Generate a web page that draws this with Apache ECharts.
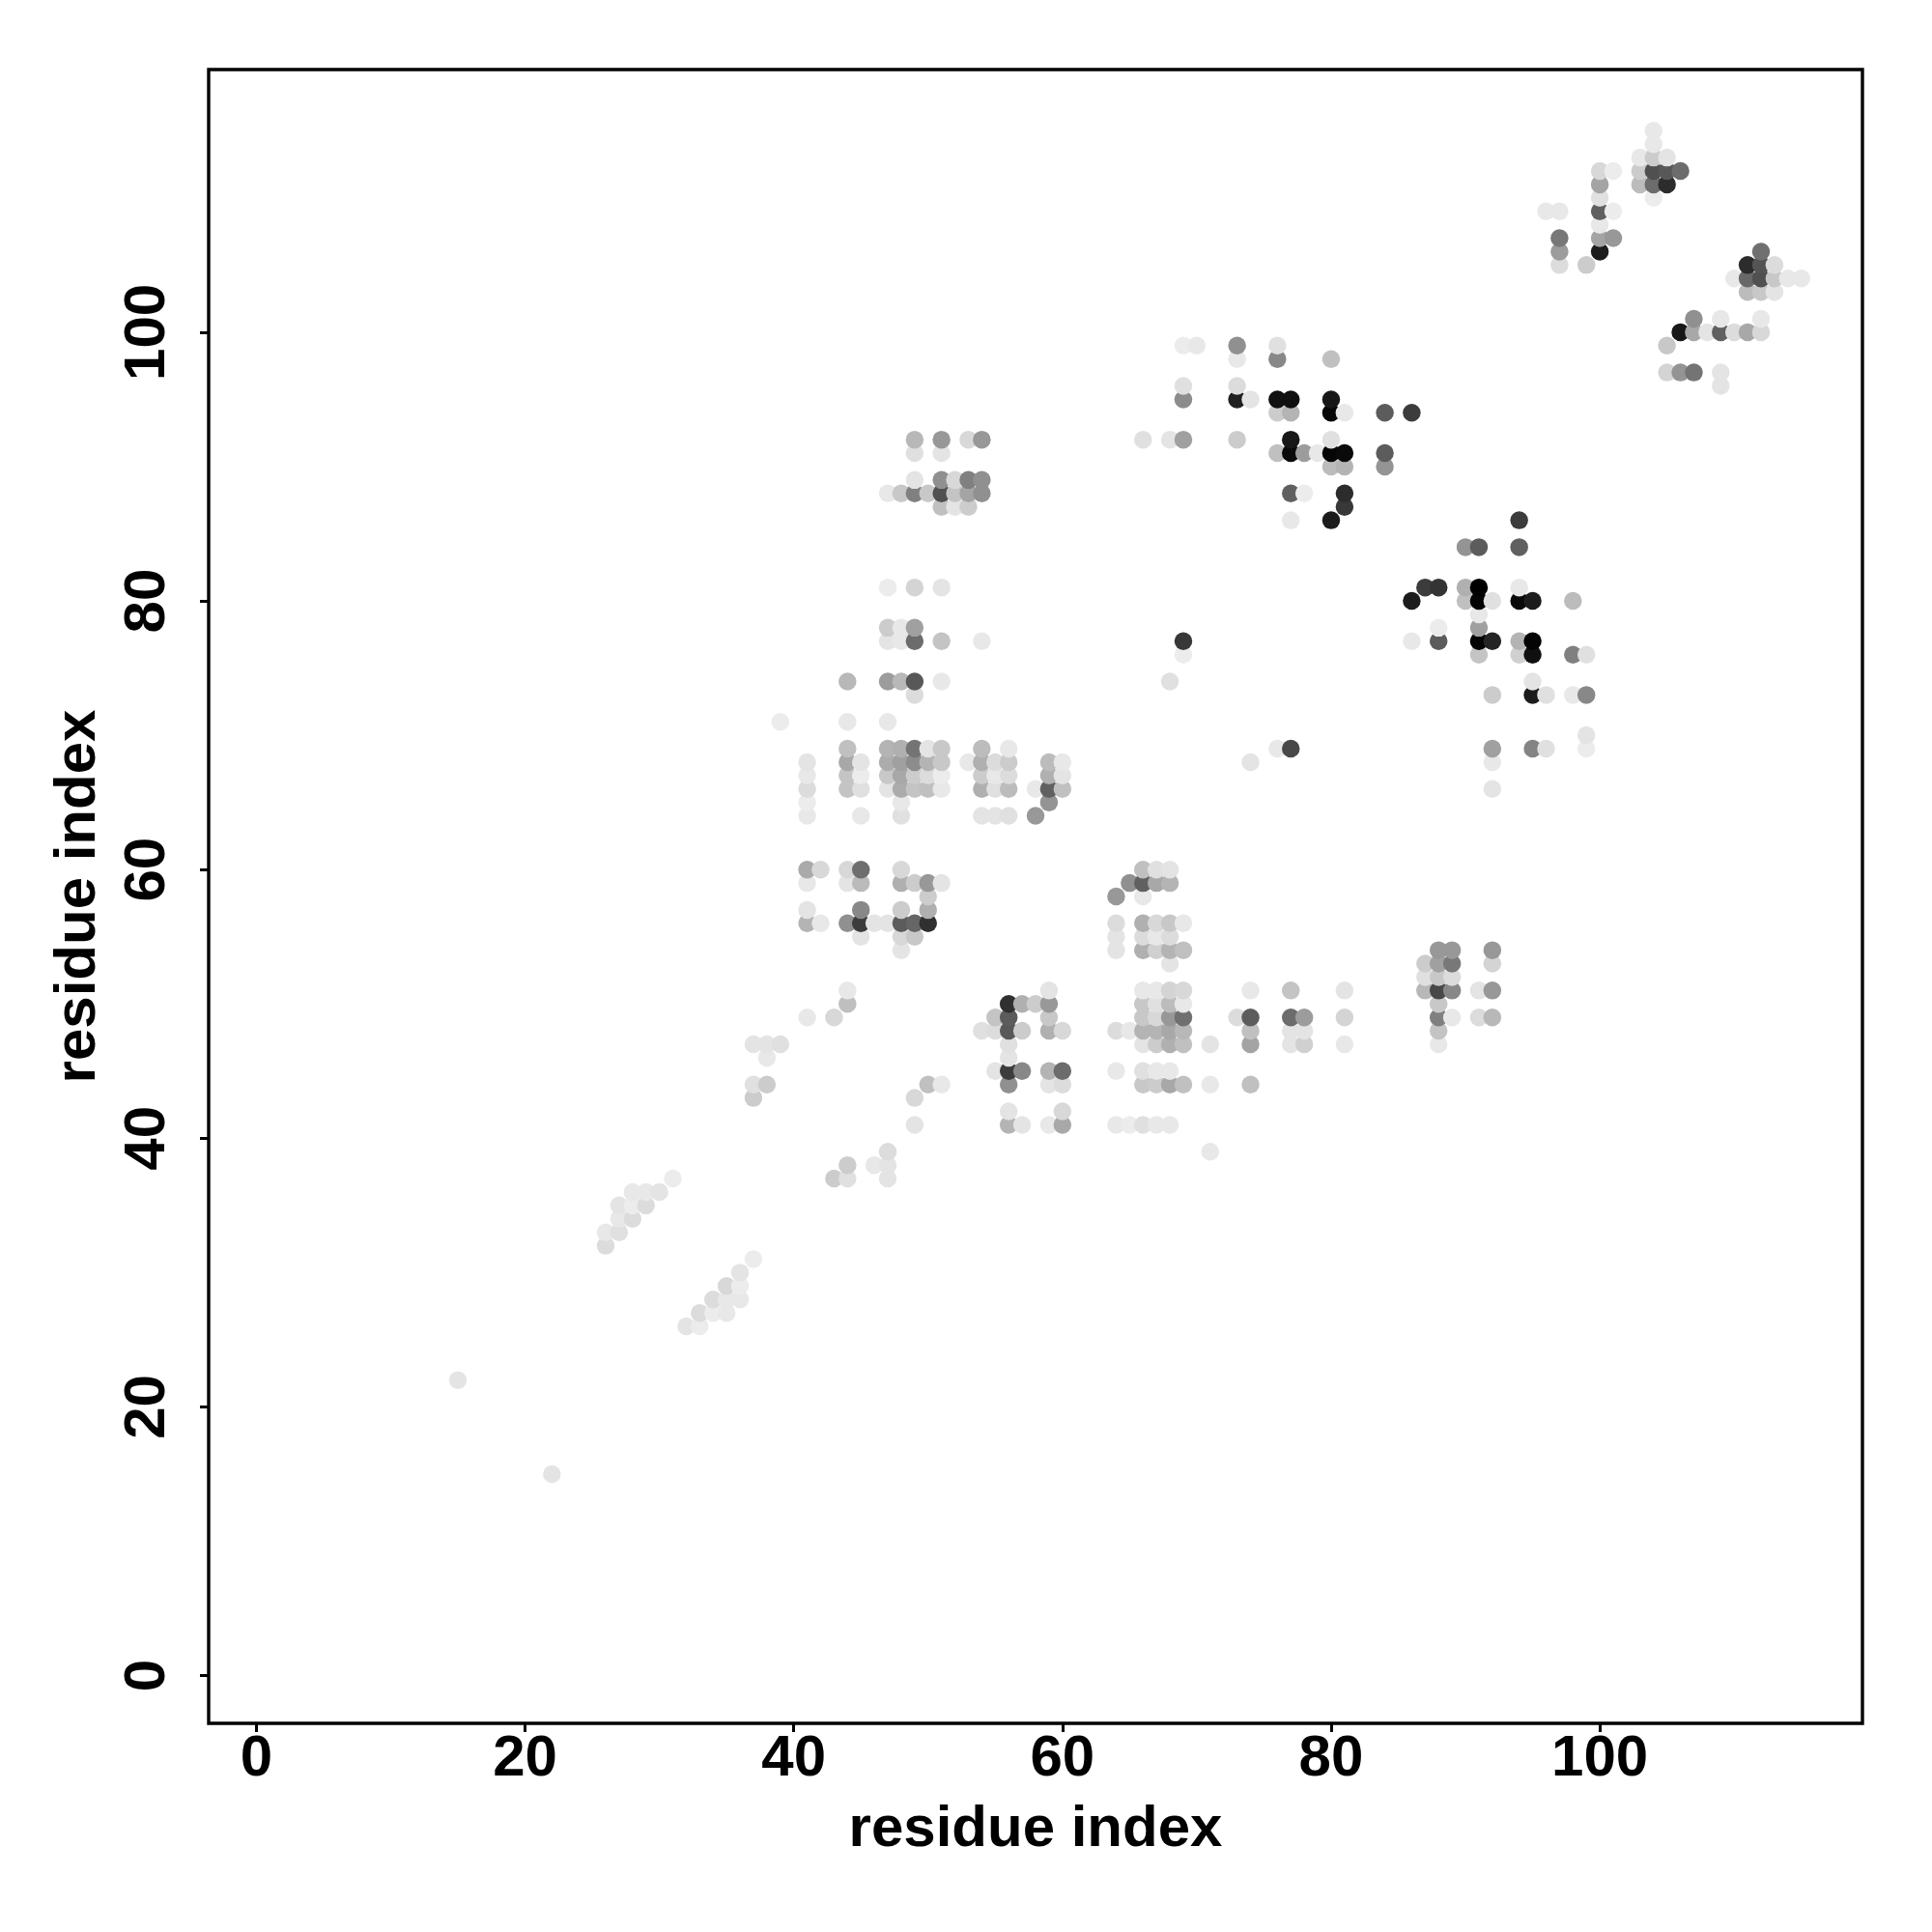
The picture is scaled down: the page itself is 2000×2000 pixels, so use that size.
<!DOCTYPE html>
<html><head><meta charset="utf-8">
<style>html,body{margin:0;padding:0;background:#fff}#c{width:2000px;height:2000px}</style>
<script src="https://cdn.jsdelivr.net/npm/echarts@6/dist/echarts.min.js"></script>
</head><body><div id="c"></div>
<script>
// Every entry: [residue x, residue y, grey level 0-255]
const tickValues = [0, 20, 40, 60, 80, 100];
const axisTitle = 'residue index';
const sparse = [[15,22,0xe4],[22,15,0xe4]];
const strandA = [[26,32,0xdc],[26,33,0xe8],[27,33,0xe0],[27,34,0xe8],[28,34,0xdc],[27,35,0xe4],[28,35,0xec],[29,35,0xdc],[28,36,0xe8],[29,36,0xe8],[30,36,0xe4],[31,37,0xec]];
const strandB = [[32,26,0xe4],[33,26,0xec],[33,27,0xdc],[34,27,0xec],[35,27,0xe8],[34,28,0xdc],[35,28,0xe8],[36,28,0xe8],[35,29,0xd8],[36,29,0xec],[36,30,0xe4],[37,31,0xec]];
const band37to51 = [[37,47,0xe4],[38,47,0xe4],[39,47,0xe0],[38,46,0xe8],[37,44,0xe0],[38,44,0xcc],[37,43,0xcc],[41,49,0xe8],[43,49,0xd8],[44,50,0xbf],[44,51,0xe8],[50,44,0xc0],[51,44,0xe8],[49,43,0xd8],[49,41,0xe4],[44,38,0xcc],[43,37,0xcc],[44,37,0xe0],[46,38,0xe8],[47,39,0xdc],[47,38,0xe4],[47,37,0xe4]];
const band54to60 = [[41,60,0xaa],[42,60,0xd8],[44,60,0xd8],[45,60,0x6e],[48,60,0xd8],[41,59,0xe8],[44,59,0xe4],[45,59,0xbb],[48,59,0xb0],[49,59,0xcc],[50,59,0x98],[51,59,0xe4],[50,58,0xcc],[41,57,0xe4],[45,57,0x88],[48,57,0xcc],[50,57,0xb0],[41,56,0xb4],[42,56,0xe8],[44,56,0x90],[45,56,0x3c],[46,56,0xe4],[47,56,0xe4],[48,56,0x5c],[49,56,0x66],[50,56,0x30],[45,55,0xe4],[48,55,0xd8],[49,55,0xc8],[48,54,0xe4]];
const hairpin54to60 = [[59,51,0xe4],[56,50,0x30],[57,50,0xb0],[58,50,0xcc],[59,50,0x98],[55,49,0xc4],[56,49,0x5c],[59,49,0xc8],[54,48,0xe0],[55,48,0xdc],[56,48,0x58],[57,48,0xcc],[59,48,0xb0],[60,48,0xd8],[56,47,0xe0],[56,46,0xe4],[55,45,0xe4],[56,45,0x3c],[57,45,0x88],[59,45,0xb4],[60,45,0x6c],[56,44,0x90],[59,44,0xe4],[60,44,0xdc],[56,42,0xe4],[60,42,0xd8],[56,41,0xb4],[57,41,0xe4],[59,41,0xe8],[60,41,0xa8]];
const block64to69upper = [[66,60,0xc0],[67,60,0xe0],[68,60,0xe4],[65,59,0x90],[66,59,0x60],[67,59,0xa8],[68,59,0xb4],[64,58,0x98],[66,58,0xe8],[64,56,0xdc],[66,56,0xb0],[67,56,0xd8],[68,56,0xc8],[69,56,0xe8],[64,55,0xe4],[66,55,0xdc],[67,55,0xe8],[68,55,0xdc],[64,54,0xe4],[66,54,0xb0],[67,54,0xd0],[68,54,0xb4],[69,54,0xc0],[68,53,0xe4]];
const block64to81lower = [[66,51,0xe8],[67,51,0xe8],[68,51,0xd4],[69,51,0xd8],[74,51,0xe8],[77,51,0xc4],[81,51,0xe4],[66,50,0xc8],[67,50,0xe0],[68,50,0xbc],[69,50,0xe8],[66,49,0xc8],[67,49,0xd8],[68,49,0x98],[69,49,0x70],[73,49,0xdc],[74,49,0x5c],[77,49,0x6c],[78,49,0x9c],[81,49,0xd4],[64,48,0xdc],[65,48,0xe8],[66,48,0xb4],[67,48,0xb4],[68,48,0xa8],[69,48,0xb8],[74,48,0xc0],[77,48,0xe4],[78,48,0xe4],[66,47,0xe4],[67,47,0xcc],[68,47,0xb0],[69,47,0xc0],[71,47,0xe4],[74,47,0xa4],[77,47,0xe4],[78,47,0xd0],[81,47,0xe8],[64,45,0xe8],[66,45,0xe0],[67,45,0xe8],[68,45,0xe8],[66,44,0xc8],[67,44,0xcc],[68,44,0xa8],[69,44,0xc0],[71,44,0xe8],[74,44,0xc0],[64,41,0xe8],[65,41,0xec],[66,41,0xe0],[67,41,0xe8],[68,41,0xe8],[71,39,0xe8]];
const block87to92 = [[88,54,0x98],[89,54,0x98],[92,54,0x98],[87,53,0xcc],[88,53,0xa0],[89,53,0x78],[92,53,0xd4],[87,52,0xe0],[88,52,0xc8],[89,52,0xdc],[87,51,0xb8],[88,51,0x48],[89,51,0x88],[91,51,0xe4],[92,51,0x98],[88,50,0xc8],[88,49,0x80],[89,49,0xe8],[91,49,0xdc],[92,49,0xb8],[88,48,0xc4],[88,47,0xe8]];
const band64to69 = [[44,69,0xc0],[47,69,0xb4],[48,69,0xb0],[49,69,0x74],[50,69,0xe4],[51,69,0xc8],[54,69,0xbc],[56,69,0xe8],[41,68,0xe4],[44,68,0xa8],[45,68,0xe4],[47,68,0xac],[48,68,0xa0],[49,68,0x8c],[50,68,0xb4],[51,68,0xc8],[53,68,0xe8],[54,68,0xb0],[55,68,0xdc],[56,68,0xcc],[59,68,0xbc],[60,68,0xe8],[41,67,0xe8],[44,67,0xc4],[45,67,0xec],[47,67,0xc8],[48,67,0xa8],[49,67,0xcc],[50,67,0xdc],[51,67,0xec],[54,67,0xcc],[55,67,0xe8],[56,67,0xdc],[59,67,0xb0],[60,67,0xe4],[41,66,0xdc],[44,66,0xc4],[45,66,0xe0],[47,66,0xe4],[48,66,0xac],[49,66,0xc4],[50,66,0xc0],[51,66,0xe8],[54,66,0xb0],[55,66,0xe0],[56,66,0xbc],[58,66,0xe8],[59,66,0x60],[60,66,0xc0],[41,65,0xec],[48,65,0xe8],[59,65,0x94],[41,64,0xe8],[45,64,0xe8],[48,64,0xe0],[54,64,0xe4],[55,64,0xe4],[56,64,0xe0],[58,64,0x98]];
const band71to81 = [[47,81,0xec],[49,81,0xd4],[51,81,0xe4],[47,78,0xcc],[48,78,0xe8],[49,78,0xa0],[47,77,0xe4],[48,77,0xe8],[49,77,0x6c],[51,77,0xc4],[54,77,0xe8],[44,74,0xb8],[47,74,0x9c],[48,74,0xb8],[49,74,0x58],[51,74,0xe8],[49,73,0xdc],[39,71,0xec],[44,71,0xe8],[47,71,0xe8]];
const band87to92 = [[49,92,0xb8],[51,92,0x98],[53,92,0xd8],[54,92,0x98],[49,91,0xe0],[51,91,0xe4],[49,89,0xe4],[51,89,0x90],[52,89,0xd8],[53,89,0x80],[54,89,0x90],[47,88,0xe8],[48,88,0xc8],[49,88,0x80],[50,88,0xc8],[51,88,0x50],[52,88,0xc4],[53,88,0xa4],[54,88,0x90],[51,87,0xc0],[52,87,0xe4],[53,87,0xcc]];
const helix66to86 = [[69,99,0xec],[70,99,0xe8],[73,99,0x90],[76,99,0xe0],[73,98,0xe8],[76,98,0x88],[80,98,0xc0],[69,96,0xe0],[73,96,0xdc],[69,95,0x8c],[73,95,0x20],[74,95,0xe4],[76,95,0x10],[77,95,0x10],[80,95,0x18],[76,94,0xcc],[77,94,0xb4],[80,94,0x08],[81,94,0xe8],[84,94,0x5c],[86,94,0x3c],[66,92,0xe0],[68,92,0xe4],[69,92,0xa0],[73,92,0xcc],[77,92,0x18],[80,92,0xe0],[76,91,0xc0],[77,91,0x0a],[78,91,0x9c],[79,91,0xe8],[80,91,0x06],[81,91,0x0a],[84,91,0x5c],[80,90,0xbc],[81,90,0xb4],[84,90,0x94],[77,88,0x60],[78,88,0xec],[81,88,0x2c],[81,87,0x38],[77,86,0xe8],[80,86,0x1c]];
const isolated68to77 = [[69,77,0x38],[69,76,0xec],[68,74,0xe0],[74,68,0xe4],[76,69,0xe8],[77,69,0x48]];
const helix86to99 = [[94,86,0x3c],[90,84,0x94],[91,84,0x5c],[94,84,0x60],[87,81,0x3c],[88,81,0x34],[90,81,0xb0],[91,81,0x00],[94,81,0xe8],[86,80,0x1c],[90,80,0xc0],[91,80,0x04],[92,80,0xe0],[94,80,0x0a],[95,80,0x1c],[98,80,0xbc],[91,79,0xe8],[88,78,0xec],[91,78,0xa0],[86,77,0xe8],[88,77,0x5c],[91,77,0x04],[92,77,0x24],[94,77,0xb4],[95,77,0x04],[91,76,0xc4],[94,76,0xd0],[95,76,0x10],[98,76,0x80],[99,76,0xe0],[95,74,0xe4],[92,73,0xcc],[95,73,0x1c],[96,73,0xe0],[98,73,0xe8],[99,73,0x88],[99,70,0xe4],[92,69,0xa0],[95,69,0x84],[96,69,0xe0],[99,69,0xec],[92,68,0xe8],[92,66,0xe4]];
const topCluster = [[104,115,0xe8],[104,114,0xe8],[103,113,0xe8],[104,113,0xcc],[105,113,0xe4],[100,112,0xd8],[101,112,0xec],[103,112,0xcc],[104,112,0x50],[105,112,0x58],[106,112,0x6c],[100,111,0xa4],[103,111,0xbc],[104,111,0x6c],[105,111,0x2c],[100,110,0xe0],[104,110,0xec],[96,109,0xe8],[97,109,0xe8],[100,109,0x60],[101,109,0xec],[100,108,0xe8],[97,107,0x78],[100,107,0xa4],[101,107,0x98],[97,106,0x9c],[100,106,0x1c],[97,105,0xdc],[99,105,0xcc]];
const rightCluster = [[112,106,0x70],[111,105,0x2c],[112,105,0x54],[113,105,0xdc],[110,104,0xe8],[111,104,0x68],[112,104,0x50],[113,104,0xc8],[114,104,0xe8],[115,104,0xe8],[111,103,0xbc],[112,103,0xc8],[113,103,0xe4],[107,101,0x90],[109,101,0xe8],[112,101,0xe8],[106,100,0x18],[107,100,0xa8],[108,100,0xe4],[109,100,0x60],[110,100,0xdc],[111,100,0xa8],[112,100,0xd8],[105,99,0xc8],[105,97,0xd4],[106,97,0x94],[107,97,0x74],[109,97,0xe4],[109,96,0xe4]];

// Later residues are painted over earlier ones, as in the reference.
const contacts = [].concat(sparse, strandA, strandB, band37to51, band54to60, hairpin54to60, block64to69upper, block64to81lower, block87to92, band64to69, band71to81, band87to92, helix66to86, isolated68to77, helix86to99, topCluster, rightCluster)
  .sort((a, b) => a[0] - b[0] || a[1] - b[1]);

const font = {fontFamily: '"Liberation Sans", Arial, sans-serif', fontWeight: 'bold', fontSize: 60, color: '#000'};
const tick = {show: true, customValues: tickValues, length: 9, lineStyle: {color: '#000', width: 3}};

const chart = echarts.init(document.getElementById('c'), null, {renderer: 'canvas', width: 2000, height: 2000});
chart.setOption({
  animation: false,
  backgroundColor: '#fff',
  grid: {show: true, left: 216, right: 72, top: 72, bottom: 216, borderColor: '#000', borderWidth: 3.4, backgroundColor: 'transparent', containLabel: false},
  xAxis: {
    type: 'value', min: -3.55, max: 119.55, splitLine: {show: false}, axisLine: {show: false, onZero: false},
    axisTick: tick,
    axisLabel: Object.assign({customValues: tickValues, margin: 7, formatter: v => String(v)}, font),
    name: axisTitle, nameLocation: 'middle', nameGap: 80, nameTextStyle: font
  },
  yAxis: {
    type: 'value', min: -3.55, max: 119.55, splitLine: {show: false}, axisLine: {show: false, onZero: false},
    axisTick: tick,
    axisLabel: Object.assign({customValues: tickValues, margin: 33, rotate: 90, formatter: v => String(v)}, font),
    name: axisTitle, nameLocation: 'middle', nameGap: 105, nameRotate: 90, nameTextStyle: font
  },
  series: [{
    type: 'scatter', data: contacts, encode: {x: 0, y: 1}, symbol: 'circle', symbolSize: 18.5,
    progressive: 0, large: false, silent: true,
    itemStyle: {opacity: 1, color: p => { const g = p.value[2]; return 'rgb(' + g + ',' + g + ',' + g + ')'; }}
  }]
});
</script></body></html>
